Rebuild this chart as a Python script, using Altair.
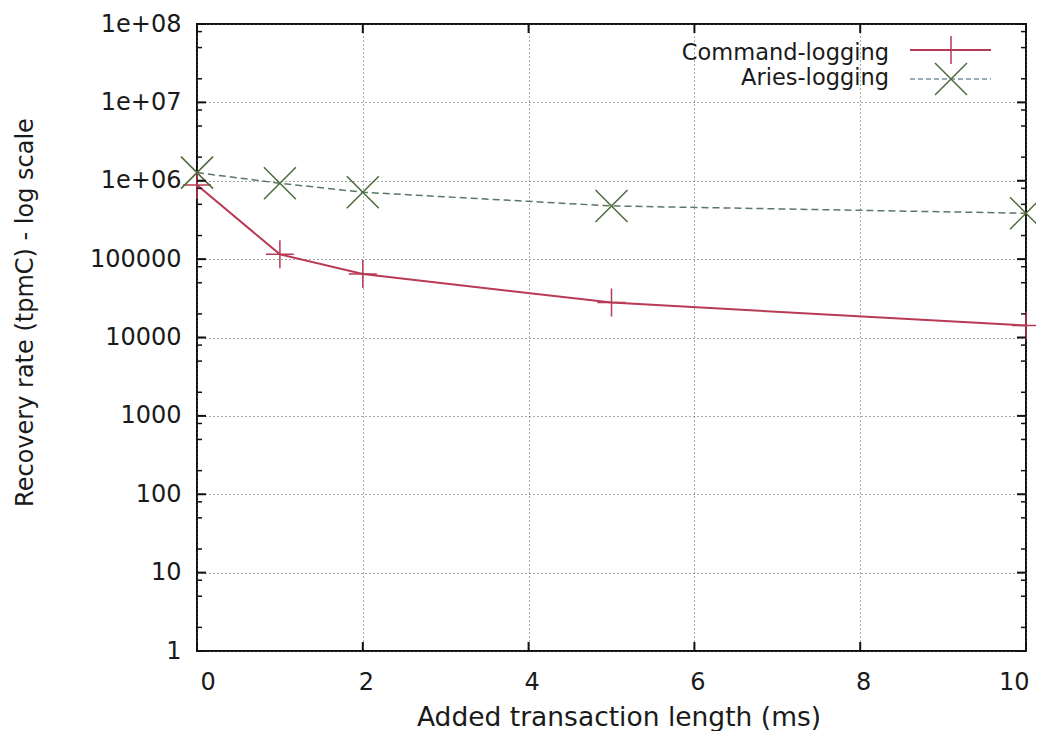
import altair as alt
import pandas as pd

# ---- data ----
x_vals = [0, 1, 2, 5, 10]
command_logging = [880000, 115000, 64700, 27900, 14200]
aries_logging = [1270000, 930000, 713000, 477000, 385000]
series_names = ["Command-logging", "Aries-logging"]

x_tick_values = [0, 2, 4, 6, 8, 10]
y_tick_values = [1, 10, 100, 1000, 10000, 100000, 1000000, 10000000, 100000000]
y_tick_labels = ["1", "10", "100", "1000", "10000", "100000", "1e+06", "1e+07", "1e+08"]
y_minor_mults = [2, 5, 8]
y_minor_ticks = [m * d for d in y_tick_values[:-1] for m in y_minor_mults]

W, H = 829, 627
RED = "#b83a55"
GREEN_LINE = "#5a7764"
GREEN_MARK = "#4d6b3a"
FONT = "DejaVu Sans"
PLUS = "M-1,0L1,0M0,-1L0,1"
CROSS = "M-1,-1L1,1M-1,1L1,-1"

df_cmd = pd.DataFrame({"x": x_vals, "y": command_logging})
df_aries = pd.DataFrame({"x": x_vals, "y": aries_logging})
df_ymaj = pd.DataFrame({"y": y_tick_values})
df_ymin = pd.DataFrame({"y": y_minor_ticks})
df_xmaj = pd.DataFrame({"x": x_tick_values})

xscale = alt.Scale(domain=[0, 10], nice=False, zero=False)
yscale = alt.Scale(type="log", domain=[1, 1e8], nice=False)

label_expr = "[" + ",".join(f"'{l}'" for l in y_tick_labels) + "][round(log(datum.value)/LN10)]"

x_axis = alt.Axis(
    values=x_tick_values, format="d", title="Added transaction length (ms)",
    grid=True, gridDash=[1, 3], gridColor="#555", gridWidth=1,
    ticks=False, tickSize=0, domain=False,
    labelPadding=19, labelFontSize=24, labelOffset=3,
    titleFontSize=26.5, titleX=421.5, titleY=74,
    titleBaseline="alphabetic", titleAlign="center",
)
y_axis = alt.Axis(
    values=y_tick_values, labelExpr=label_expr,
    title="Recovery rate (tpmC) - log scale",
    grid=True, gridDash=[1, 3], gridColor="#555", gridWidth=1,
    ticks=False, tickSize=0, domain=False,
    labelPadding=16, labelFontSize=24,
    titleFontSize=24, titleX=-172, titleY=288, titleAngle=270,
    titleBaseline="middle", titleAlign="center",
)

cmd_line = alt.Chart(df_cmd).mark_line(color=RED, strokeWidth=2).encode(
    x=alt.X("x:Q", scale=xscale, axis=x_axis),
    y=alt.Y("y:Q", scale=yscale, axis=y_axis),
)
cmd_pts = alt.Chart(df_cmd).mark_point(
    shape=PLUS, size=784, filled=False, color=RED, strokeWidth=1.5, opacity=1
).encode(x="x:Q", y="y:Q")

aries_line = alt.Chart(df_aries).mark_line(
    color=GREEN_LINE, strokeWidth=1.5, strokeDash=[7, 4]
).encode(x="x:Q", y="y:Q")
aries_pts = alt.Chart(df_aries).mark_point(
    shape=CROSS, size=1024, filled=False, color=GREEN_MARK, strokeWidth=1.5, opacity=1
).encode(x="x:Q", y="y:Q")

# inward ticks (major + minor) on all four sides
tick_color = "#111"
yl_maj = alt.Chart(df_ymaj).mark_rule(color=tick_color, strokeWidth=2).encode(
    y="y:Q", x=alt.value(0), x2=alt.value(9))
yr_maj = alt.Chart(df_ymaj).mark_rule(color=tick_color, strokeWidth=2).encode(
    y="y:Q", x=alt.value(W - 9), x2=alt.value(W))
yl_min = alt.Chart(df_ymin).mark_rule(color=tick_color, strokeWidth=1.5).encode(
    y="y:Q", x=alt.value(0), x2=alt.value(5))
yr_min = alt.Chart(df_ymin).mark_rule(color=tick_color, strokeWidth=1.5).encode(
    y="y:Q", x=alt.value(W - 5), x2=alt.value(W))
xb_maj = alt.Chart(df_xmaj).mark_rule(color=tick_color, strokeWidth=2).encode(
    x="x:Q", y=alt.value(H - 9), y2=alt.value(H))
xt_maj = alt.Chart(df_xmaj).mark_rule(color=tick_color, strokeWidth=2).encode(
    x="x:Q", y=alt.value(0), y2=alt.value(9))

# custom legend (text left of sample, top-right inside)
leg_cmd = pd.DataFrame({"label": [series_names[0]]})
leg_aries = pd.DataFrame({"label": [series_names[1]]})
leg_text1 = alt.Chart(leg_cmd).mark_text(
    align="right", baseline="alphabetic", font=FONT, fontSize=22.5, color="#1a1a1a"
).encode(text="label:N", x=alt.value(692), y=alt.value(36))
leg_text2 = alt.Chart(leg_aries).mark_text(
    align="right", baseline="alphabetic", font=FONT, fontSize=22.5, color="#1a1a1a"
).encode(text="label:N", x=alt.value(692), y=alt.value(61))
leg_line1 = alt.Chart(leg_cmd).mark_rule(color=RED, strokeWidth=2).encode(
    x=alt.value(713), x2=alt.value(794), y=alt.value(26))
leg_line2 = alt.Chart(leg_aries).mark_rule(
    color="#7890a0", strokeWidth=1.5, strokeDash=[5, 3]).encode(
    x=alt.value(713), x2=alt.value(794), y=alt.value(55))
leg_pt1 = alt.Chart(leg_cmd).mark_point(
    shape=PLUS, size=784, filled=False, color=RED, strokeWidth=1.5, opacity=1
).encode(x=alt.value(754), y=alt.value(26))
leg_pt2 = alt.Chart(leg_aries).mark_point(
    shape=CROSS, size=1024, filled=False, color=GREEN_MARK, strokeWidth=1.5, opacity=1
).encode(x=alt.value(754), y=alt.value(55))

chart = alt.layer(
    cmd_line, aries_line, cmd_pts, aries_pts,
    yl_maj, yr_maj, yl_min, yr_min, xb_maj, xt_maj,
    leg_line1, leg_line2, leg_pt1, leg_pt2, leg_text1, leg_text2,
).properties(
    width=W, height=H,
    autosize=alt.AutoSizeParams(type="none"),
    padding={"left": 189, "top": 16, "right": 10, "bottom": 80},
    background="white",
).configure_view(
    stroke="#111", strokeWidth=2
).configure_axis(
    labelFont=FONT, titleFont=FONT, labelColor="#1a1a1a", titleColor="#1a1a1a",
    titleFontWeight="normal",
)

chart.save("out.html", embed_options={"renderer": "svg", "actions": False})
